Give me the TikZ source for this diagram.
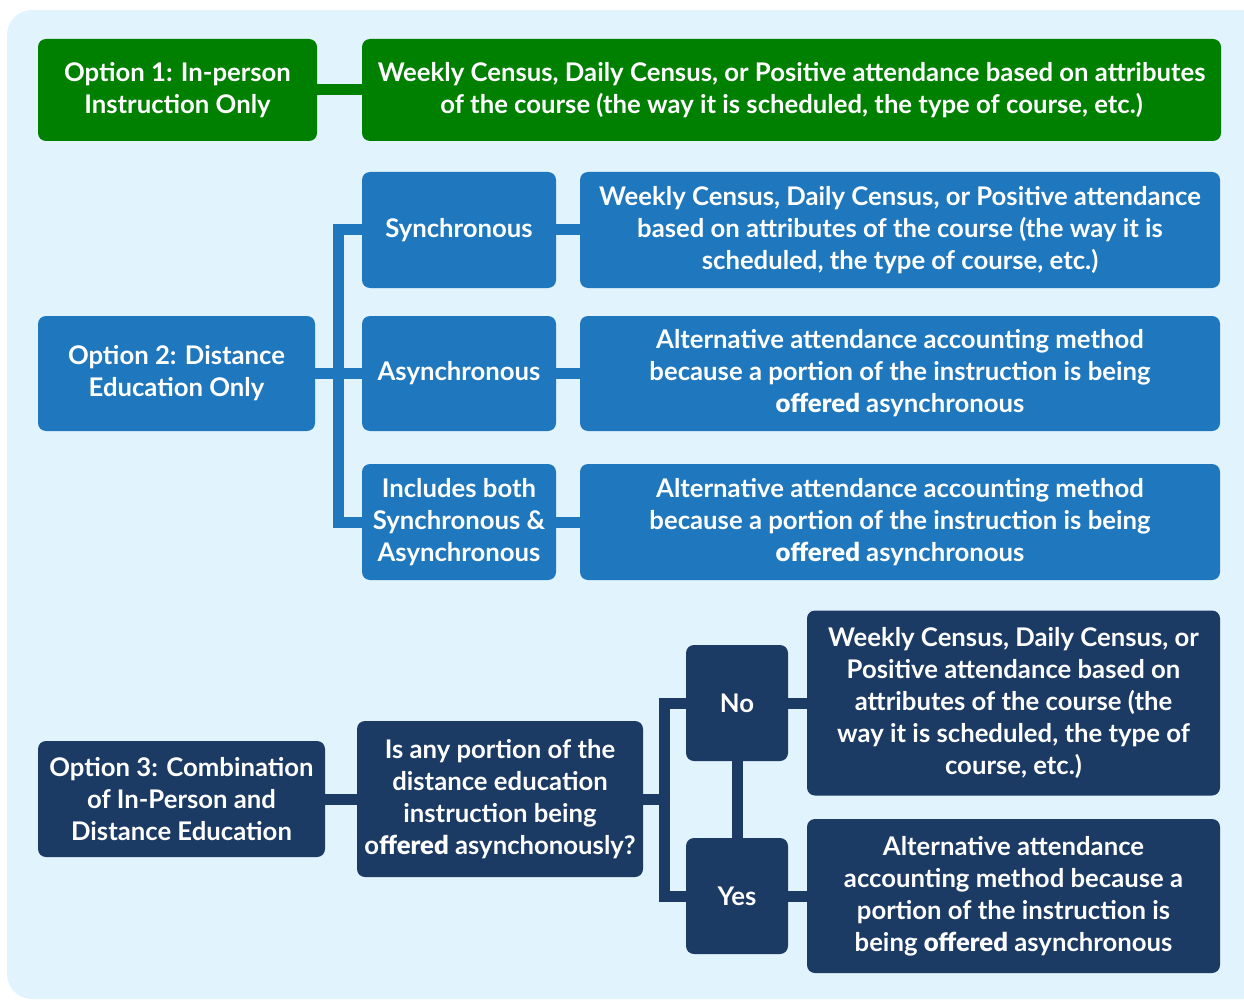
\documentclass[tikz,border=0pt]{standalone}
\usepackage{fontspec}
\setmainfont{Lato}[UprightFont=* Bold, BoldFont=* Black]
\definecolor{bgc}{HTML}{E1F3FD}
\definecolor{grn}{HTML}{008000}
\definecolor{blu}{HTML}{1F77BD}
\definecolor{nav}{HTML}{1B3A64}
\begin{document}
\begin{tikzpicture}[x=1pt,y=-1pt,
  box/.style={rounded corners=8pt, text=white, align=center, inner sep=0pt, font=\fontsize{25.7}{32}\selectfont},
  gbox/.style={box, fill=grn},
  bbox/.style={box, fill=blu},
  nbox/.style={box, fill=nav},
  conn/.style={line width=11pt},
  gc/.style={conn, draw=grn},
  bc/.style={conn, draw=blu},
  nc/.style={conn, draw=nav}]
\useasboundingbox (0,0) rectangle (1244,1000);
\fill[bgc, rounded corners=25pt] (7,10) rectangle (1270,999);
% Option 1
\node[gbox, minimum width=279pt, minimum height=102pt] (opt1) at (177.5,90) {Option 1: In-person\\Instruction Only};
\node[gbox, minimum width=859pt, minimum height=102pt] (wide1) at (791.5,90) {Weekly Census, Daily Census, or Positive attendance based on attributes\\of the course (the way it is scheduled, the type of course, etc.)};
% Option 2
\node[bbox, minimum width=277pt, minimum height=115pt] (opt2) at (176.5,373.5) {Option 2: Distance\\Education Only};
\node[bbox, minimum width=194pt, minimum height=116pt] (sync) at (459,230) {Synchronous};
\node[bbox, minimum width=194pt, minimum height=115pt] (async) at (459,373.5) {Asynchronous};
\node[bbox, minimum width=194pt, minimum height=116pt] (both) at (459,522) {Includes both\\Synchronous \&\\Asynchronous};
\node[bbox, minimum width=640pt, minimum height=116pt] (r1) at (900,230) {Weekly Census, Daily Census, or Positive attendance\\based on attributes of the course (the way it is\\scheduled, the type of course, etc.)};
\node[bbox, minimum width=640pt, minimum height=115pt] (r2) at (900,373.5) {Alternative attendance accounting method\\because a portion of the instruction is being\\\textbf{offered} asynchronous};
\node[bbox, minimum width=640pt, minimum height=116pt] (r3) at (900,522) {Alternative attendance accounting method\\because a portion of the instruction is being\\\textbf{offered} asynchronous};
\coordinate (bus2) at (338,373.5);
% Option 3
\node[nbox, minimum width=287pt, minimum height=116pt] (opt3) at (181.5,799) {Option 3: Combination\\of In-Person and\\Distance Education};
\node[nbox, minimum width=286pt, minimum height=156pt] (q) at (500,799) {Is any portion of the\\distance education\\instruction being\\o\textbf{ffered} asynchonously?};
\node[nbox, minimum width=102pt, minimum height=116pt] (no) at (737,703) {No};
\node[nbox, minimum width=102pt, minimum height=116pt] (yes) at (737,896) {Yes};
\node[nbox, minimum width=413pt, minimum height=185pt] (rno) at (1013.5,703) {Weekly Census, Daily Census, or\\Positive attendance based on\\attributes of the course (the\\way it is scheduled, the type of\\course, etc.)};
\node[nbox, minimum width=413pt, minimum height=154pt] (ryes) at (1013.5,896) {Alternative attendance\\accounting method because a\\portion of the instruction is\\being \textbf{offered} asynchronous};
\coordinate (bus3) at (664,799);
% connectors
\draw[gc] (opt1.east) -- (wide1.west);
\draw[bc] (opt2.east) -- (async.west);
\draw[bc] (sync.west) -| (bus2) |- (both.west);
\draw[bc] (sync.east) -- (r1.west);
\draw[bc] (async.east) -- (r2.west);
\draw[bc] (both.east) -- (r3.west);
\draw[nc] (opt3.east) -- (q.west);
\draw[nc] (q.east) -- (bus3);
\draw[nc] (no.west) -| (bus3) |- (yes.west);
\draw[nc] (no.south) -- (yes.north);
\draw[nc] (no.east) -- (rno.west);
\draw[nc] (yes.east) -- (ryes.west);
\end{tikzpicture}
\end{document}
